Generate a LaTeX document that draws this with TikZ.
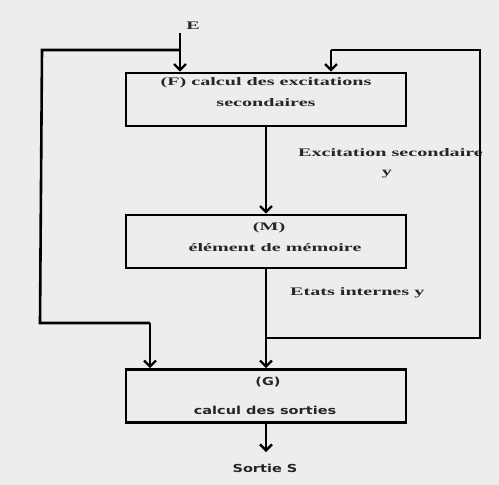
\documentclass[tikz,border=0pt]{standalone}
\usepackage{fontspec}
\setmainfont{Liberation Serif}
\newfontfamily\widserif[FakeStretch=1.75]{Liberation Serif}
\newfontfamily\widsans[FakeStretch=1.32]{DejaVu Sans}
\usetikzlibrary{arrows.meta}
\begin{document}
\begin{tikzpicture}[x=1pt,y=-1pt,
  block/.style={draw=black, line width=2.6pt, minimum width=280pt, minimum height=53pt, inner sep=0pt},
  wire/.style={draw=black, line width=2.6pt},
  flow/.style={wire, -{Straight Barb[length=6pt,width=12pt,line width=2.4pt]}},
  lbl/.style={font=\widserif\bfseries\fontsize{11.5}{13}\selectfont, inner sep=0pt, text=black!85},
  slbl/.style={font=\widsans\bfseries\fontsize{11}{13}\selectfont, inner sep=0pt, text=black!85}]
  % page and background
  \fill[black!7] (0,0) rectangle (499,485);
  \useasboundingbox (0,0) rectangle (499,485);

  % blocks
  \node[block] (F) at (266,99.5) {};
  \node[block] (M) at (266,241.5) {};
  \node[block] (G) at (266,396) {};

  % block texts
  \node[lbl] (Ft1) at (266,83) {(F) calcul des excitations};
  \node[lbl] (Ft2) at (266,103) {secondaires};
  \node[lbl] (Mt1) at (269,228) {(M)};
  \node[lbl] (Mt2) at (275,248) {élément de mémoire};
  \node[slbl] (Gt1) at (268,382) {(G)};
  \node[slbl] (Gt2) at (265,410) {calcul des sorties};

  % signal labels
  \node[lbl] (E) at (193,26) {E};
  \node[lbl, anchor=west] (exc) at (298,153) {Excitation secondaire};
  \node[lbl] (excy) at (387,174) {y};
  \node[lbl, anchor=west] (etat) at (290,293) {Etats internes y};
  \node[slbl] (S) at (265,468) {Sortie S};

  % junction and corner points
  \coordinate (eTop) at (180,33);
  \coordinate (eJoin) at (180,50);
  \coordinate (lTop) at (42,50);
  \coordinate (lBot) at (40,323);
  \coordinate (lIn) at (150,323);
  \coordinate (rJoin) at (266,338);
  \coordinate (rBot) at (480,338);
  \coordinate (rTop) at (480,50);
  \coordinate (rIn) at (331,50);
  \coordinate (sEnd) at (266,452);

  % input E into F, with its branch to G
  \draw[flow] (eTop) -- (eTop |- F.north);
  \draw[wire] (eJoin) -- (lTop) -- (lBot) -- (lIn);
  \draw[flow] (lIn) -- (lIn |- G.north);

  % main chain F -> M -> G -> S
  \draw[flow] (F.south) -- (M.north);
  \draw[flow] (M.south) -- (G.north);
  \draw[flow] (G.south) -- (sEnd);

  % feedback of the internal state into F
  \draw[wire] (rJoin) -- (rBot) -- (rTop) -- (rIn);
  \draw[flow] (rIn) -- (rIn |- F.north);
\end{tikzpicture}
\end{document}
